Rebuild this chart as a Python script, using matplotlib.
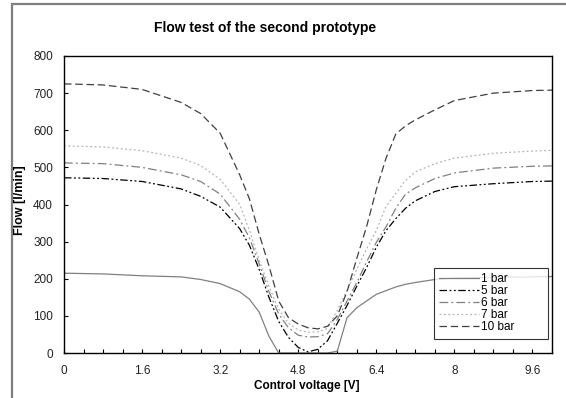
import matplotlib
matplotlib.use("Agg")
import matplotlib.pyplot as plt
from matplotlib.patches import Rectangle
from matplotlib.ticker import MultipleLocator

plt.rcParams['font.family'] = ['Liberation Sans', 'DejaVu Sans']

voltage = [0, 0.8, 1.6, 2.4, 2.8, 3.2, 3.6, 3.8, 4.0, 4.2, 4.4, 4.6, 4.8, 5.0, 5.2,
           5.4, 5.6, 5.8, 6.0, 6.2, 6.4, 6.6, 6.8, 7.0, 7.2, 7.6, 8.0, 8.8, 9.6, 10.0]

flow_1bar = [215, 213, 208, 205, 198, 187, 165, 145, 110, 45, 0, 0, 0, 0, 0,
             0, 5, 95, 122, 140, 158, 168, 178, 185, 190, 198, 202, 204, 205, 206]
flow_5bar = [472, 470, 462, 442, 422, 393, 335, 290, 225, 150, 85, 42, 15, 3, 10,
             33, 80, 128, 180, 230, 285, 330, 362, 390, 410, 435, 448, 456, 462, 463]
flow_6bar = [512, 510, 500, 480, 462, 428, 360, 310, 240, 165, 105, 68, 48, 43, 44,
             52, 90, 140, 190, 245, 298, 340, 390, 428, 445, 470, 485, 498, 503, 504]
flow_7bar = [558, 555, 545, 525, 505, 468, 400, 330, 250, 180, 118, 80, 62, 56, 57,
             66, 115, 170, 225, 280, 330, 395, 430, 465, 488, 510, 525, 538, 544, 546]
flow_10bar = [725, 722, 710, 675, 645, 592, 480, 415, 320, 235, 140, 95, 78, 68, 65,
              72, 100, 165, 255, 340, 440, 525, 590, 612, 628, 655, 680, 700, 707, 708]

series_labels = ['1 bar', '5 bar', '6 bar', '7 bar', '10 bar']
x_tick_labels = ['0', '1.6', '3.2', '4.8', '6.4', '8', '9.6']
y_tick_labels = ['0', '100', '200', '300', '400', '500', '600', '700', '800']

W, H = 566, 398
fig = plt.figure(figsize=(W / 100, H / 100), dpi=100)
fig.patch.set_facecolor('white')

# outer chart frame (only left/top visible)
fig.patches.append(Rectangle((12 / W, -0.5), 2.0, 0.5 + 1 - 4 / H, transform=fig.transFigure,
                             fill=False, edgecolor='#7f7f7f', linewidth=1.6, zorder=0))

ax = fig.add_axes([64 / W, 1 - 353 / H, (552 - 64) / W, (353 - 56) / H])

styles = [
    dict(color='#808080', linestyle='-', linewidth=0.9),
    dict(color='#000000', linestyle=(0, (6, 2, 1.5, 2, 1.5, 2)), linewidth=0.9),
    dict(color='#808080', linestyle=(0, (7, 2.5, 1.5, 2.5)), linewidth=0.9),
    dict(color='#b4b4b4', linestyle=(0, (1.5, 2)), linewidth=0.9),
    dict(color='#404040', linestyle=(0, (6, 3)), linewidth=0.9),
]
all_series = [flow_1bar, flow_5bar, flow_6bar, flow_7bar, flow_10bar]
for vals, lab, st in zip(all_series, series_labels, styles):
    ax.plot(voltage, vals, label=lab, **st)

ax.set_xlim(0, 10)
ax.set_ylim(0, 800)
ax.set_xticks([float(t) for t in x_tick_labels])
ax.set_xticklabels(x_tick_labels)
ax.xaxis.set_minor_locator(MultipleLocator(0.4))
ax.set_yticks([float(t) for t in y_tick_labels])
ax.set_yticklabels(y_tick_labels)

ax.tick_params(axis='both', which='both', direction='in', top=False, right=False,
               labelsize=8.5, colors='black', width=0.8)
ax.tick_params(axis='both', which='major', length=3)
ax.tick_params(axis='x', which='minor', length=3)
ax.tick_params(axis='x', which='major', pad=9)
ax.tick_params(axis='y', which='major', pad=8)
for t in ax.get_xticklabels() + ax.get_yticklabels():
    t.set_color('#222222')
for sp in ax.spines.values():
    sp.set_color('black')
    sp.set_linewidth(1.0)

fig.text(265 / W, 1 - 28 / H, 'Flow test of the second prototype', ha='center', va='center',
         fontsize=10, fontweight='bold')
fig.text(307 / W, 1 - 386 / H, 'Control voltage [V]', ha='center', va='center',
         fontsize=8.5, fontweight='bold')
fig.text(20 / W, 1 - 200 / H, 'Flow [l/min]', ha='center', va='center',
         fontsize=9, fontweight='bold', rotation=90)

leg = ax.legend(loc='upper left', bbox_to_anchor=(0.758, 0.064, 0.234, 0.222),
                mode='expand', borderaxespad=0,
                fontsize=8.5, frameon=True, fancybox=False, shadow=False,
                handlelength=3.4, handletextpad=0.15, labelspacing=0.0,
                borderpad=0.45)
leg.get_frame().set_edgecolor('black')
leg.get_frame().set_linewidth(0.8)

fig.savefig('out.png', dpi=100, facecolor='white')
